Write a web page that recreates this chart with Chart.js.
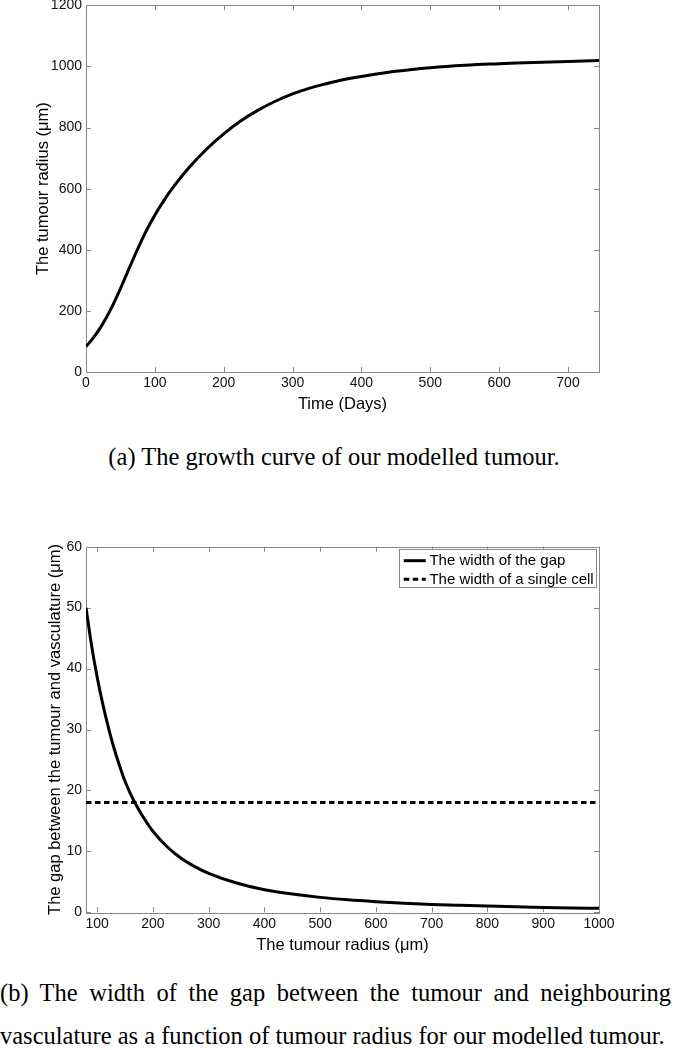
<!DOCTYPE html>
<html>
<head>
<meta charset="utf-8">
<script src="https://cdn.jsdelivr.net/npm/chart.js@4.4.0/dist/chart.umd.min.js"></script>
<style>
  body { margin: 0; background: #fff; width: 673px; height: 1050px; position: relative; overflow: hidden; }
  canvas { position: absolute; left: 0; }
  #growth { top: 0; }
  #gap { top: 530px; }
  .cap { position: absolute; left: 0; font-family: "Liberation Serif", "Times New Roman", serif; font-size: 24.5px; line-height: 1; color: #000; white-space: nowrap; }
  #capA { top: 445px; width: 668px; text-align: center; }
  #capB1 { top: 980.5px; width: 671px; text-align: justify; text-align-last: justify; }
  #capB2 { top: 1023.5px; }
</style>
</head>
<body>
<canvas id="growth" width="673" height="425"></canvas>
<div class="cap" id="capA">(a) The growth curve of our modelled tumour.</div>
<canvas id="gap" width="673" height="430"></canvas>
<div class="cap" id="capB1">(b) The width of the gap between the tumour and neighbouring</div>
<div class="cap" id="capB2">vasculature as a function of tumour radius for our modelled tumour.</div>
<script>
// (a) growth curve
const days   = [0, 10, 20, 30, 40, 50, 60, 70, 80, 90, 100, 110, 125, 150, 175, 200, 225, 250, 275, 300, 325, 350, 375, 400, 450, 500, 550, 600, 650, 700, 745];
const radius = [83, 110, 142, 180, 224, 273, 325, 377, 427, 473, 513, 550, 600, 670, 729, 779, 822, 857, 886, 910, 929, 944, 957, 967, 984, 996, 1004, 1009, 1013, 1016, 1019];
const growthXTicks = [0, 100, 200, 300, 400, 500, 600, 700];
const growthYTicks = [0, 200, 400, 600, 800, 1000, 1200];

// (b) gap between tumour and vasculature
const gapRadius = [80, 90, 100, 110, 120, 130, 140, 150, 160, 170, 180, 190, 200, 225, 250, 275, 300, 350, 400, 450, 500, 550, 600, 650, 700, 750, 800, 850, 900, 950, 1000];
const gapWidth  = [50, 43.8, 38.6, 34.2, 30.4, 27.0, 24.1, 21.5, 19.4, 17.6, 16.0, 14.6, 13.3, 10.8, 8.9, 7.5, 6.4, 4.8, 3.7, 3.0, 2.45, 2.05, 1.75, 1.5, 1.3, 1.15, 1.02, 0.9, 0.8, 0.72, 0.65];
const cellRadius = [80, 1000];
const cellWidth  = [18, 18];
const gapLabels = ['The width of the gap', 'The width of a single cell'];
const gapXTicks = [100, 200, 300, 400, 500, 600, 700, 800, 900, 1000];
const gapYTicks = [0, 10, 20, 30, 40, 50, 60];

Chart.defaults.font.family = '"Liberation Sans", Arial, Helvetica, sans-serif';
Chart.defaults.color = '#000';

const boxColor = '#888';

// matlab style box with inward ticks on all four sides
const frame = {
  id: 'frame',
  beforeDatasetsDraw(chart) {
    const {ctx, chartArea: a, scales: {x, y}} = chart;
    ctx.save();
    ctx.strokeStyle = boxColor;
    ctx.lineWidth = 1;
    ctx.strokeRect(Math.round(a.left) + 0.5, Math.round(a.top) + 0.5, Math.round(a.right - a.left), Math.round(a.bottom - a.top));
    ctx.beginPath();
    x.ticks.forEach(t => {
      const px = Math.round(x.getPixelForValue(t.value)) + 0.5;
      ctx.moveTo(px, a.bottom); ctx.lineTo(px, a.bottom - 5);
      ctx.moveTo(px, a.top); ctx.lineTo(px, a.top + 5);
    });
    y.ticks.forEach(t => {
      const py = Math.round(y.getPixelForValue(t.value)) + 0.5;
      ctx.moveTo(a.left, py); ctx.lineTo(a.left + 5, py);
      ctx.moveTo(a.right, py); ctx.lineTo(a.right - 5, py);
    });
    ctx.stroke();
    ctx.restore();
  }
};

// legend drawn inside the plot, top right, with a box round it
const boxLegend = {
  id: 'boxLegend',
  afterDatasetsDraw(chart) {
    const {ctx, chartArea: a} = chart;
    const sets = chart.data.datasets;
    ctx.save();
    ctx.font = '15px "Liberation Sans", Arial, sans-serif';
    const textW = Math.max(...sets.map(d => ctx.measureText(d.label).width));
    const w = 4.3 + 22 + 3.7 + textW + 2.8;
    const h = 38;
    const left = a.right - 2.5 - w;
    const top = a.top + 2.6;
    ctx.fillStyle = '#fff';
    ctx.fillRect(left, top, w, h);
    ctx.strokeStyle = boxColor;
    ctx.lineWidth = 1;
    ctx.strokeRect(Math.round(left) + 0.5, Math.round(top) + 0.5, Math.round(w), h);
    sets.forEach((d, i) => {
      const cy = top + 11.4 + i * 18.6;
      ctx.strokeStyle = d.borderColor;
      ctx.lineWidth = d.borderWidth;
      ctx.setLineDash(d.borderDash || []);
      ctx.beginPath();
      ctx.moveTo(left + 4.3, cy);
      ctx.lineTo(left + 26.3, cy);
      ctx.stroke();
      ctx.setLineDash([]);
      ctx.fillStyle = '#000';
      ctx.textBaseline = 'middle';
      ctx.fillText(d.label, left + 30, cy + 0.5);
    });
    ctx.restore();
  }
};

function axis(min, max, ticks, title, opts) {
  return {
    type: 'linear',
    min: min,
    max: max,
    afterBuildTicks: s => { s.ticks = ticks.map(v => ({ value: v })); },
    afterFit: s => {
      if (opts.width) { s.width = opts.width; s.paddingTop = 0; s.paddingBottom = 0; }
      if (opts.height) { s.height = opts.height; s.paddingLeft = 0; s.paddingRight = 0; }
    },
    grid: { display: false, drawTicks: false, tickLength: 0 },
    border: { display: false },
    ticks: {
      font: { size: 14 }, color: '#111', padding: opts.tickPad, maxRotation: 0, autoSkip: false,
      callback: v => String(v)
    },
    title: { display: true, text: title, font: { size: 16.5 }, color: '#000', padding: opts.titlePad }
  };
}

function points(xs, ys) {
  return xs.map((x, i) => ({ x: x, y: ys[i] }));
}

new Chart(document.getElementById('growth'), {
  type: 'line',
  data: {
    datasets: [{
      data: points(days, radius),
      borderColor: '#000',
      borderWidth: 3,
      pointRadius: 0,
      tension: 0.4
    }]
  },
  options: {
    responsive: false,
    animation: false,
    devicePixelRatio: 1,
    layout: { padding: { left: 0, right: 74, top: 5.3, bottom: 0 } },
    plugins: { legend: { display: false }, tooltip: { enabled: false } },
    scales: {
      x: axis(0, 745, growthXTicks, 'Time (Days)', { height: 53, tickPad: 2.6, titlePad: { top: 0, bottom: 11.1 } }),
      y: axis(0, 1200, growthYTicks, 'The tumour radius (\u03bcm)', { width: 86, tickPad: 4, titlePad: { top: 33.6, bottom: 0 } })
    }
  },
  plugins: [frame]
});

new Chart(document.getElementById('gap'), {
  type: 'line',
  data: {
    datasets: [{
      label: gapLabels[0],
      data: points(gapRadius, gapWidth),
      borderColor: '#000',
      borderWidth: 3,
      pointRadius: 0,
      cubicInterpolationMode: 'monotone'
    }, {
      label: gapLabels[1],
      data: points(cellRadius, cellWidth),
      borderColor: '#000',
      borderWidth: 3,
      borderDash: [5.5, 3.5],
      pointRadius: 0
    }]
  },
  options: {
    responsive: false,
    animation: false,
    devicePixelRatio: 1,
    layout: { padding: { left: 0, right: 74, top: 16.7, bottom: 0 } },
    plugins: { legend: { display: false }, tooltip: { enabled: false } },
    scales: {
      x: axis(80, 1000, gapXTicks, 'The tumour radius (\u03bcm)', { height: 47.7, tickPad: 3.3, titlePad: { top: 0, bottom: 5.1 } }),
      y: axis(0, 60, gapYTicks, 'The gap between the tumour and vasculature (\u03bcm)', { width: 86, tickPad: 4, titlePad: { top: 46, bottom: 0 } })
    }
  },
  plugins: [frame, boxLegend]
});
</script>
</body>
</html>
